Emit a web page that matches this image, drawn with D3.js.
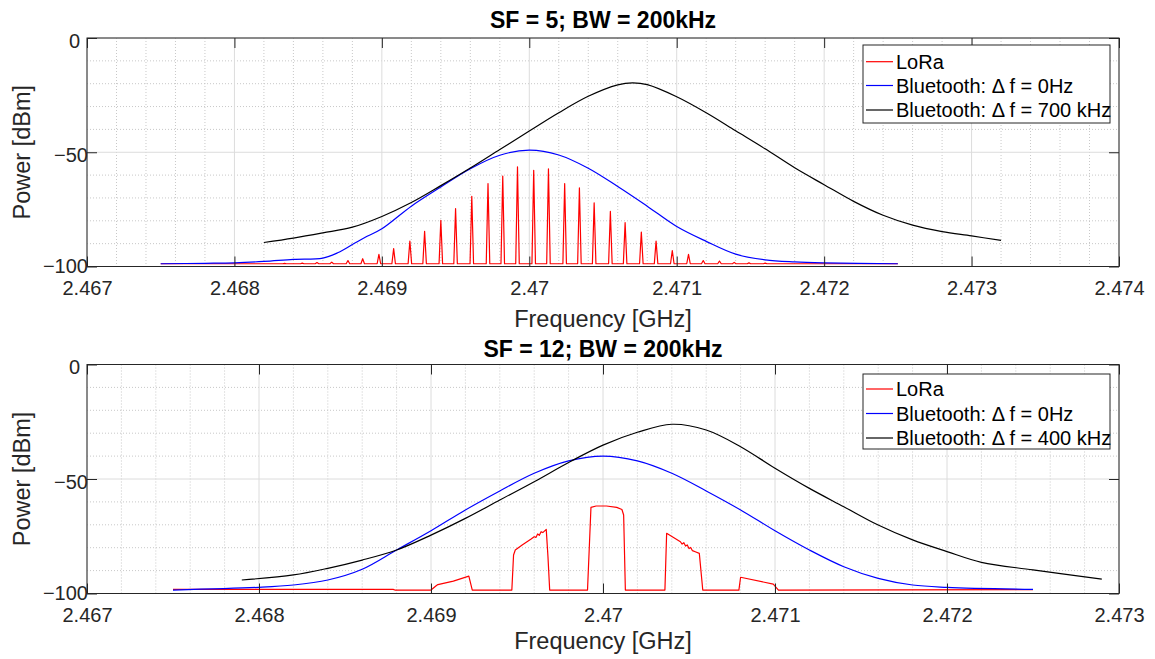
<!DOCTYPE html>
<html><head><meta charset="utf-8">
<script src="https://cdn.jsdelivr.net/npm/d3@7"></script>
<style>
body{margin:0;background:#fff}
svg{display:block}
text{font-family:"Liberation Sans",Arial,Helvetica,sans-serif;fill:#262626}
</style>
</head><body>
<svg id="c" width="1155" height="659"></svg>
<script>
// ---------------- DATA ----------------
const topTitle = "SF = 5; BW = 200kHz";
const bottomTitle = "SF = 12; BW = 200kHz";
const xLabel = "Frequency [GHz]";
const yLabel = "Power [dBm]";

const topXTicks = [2.467, 2.468, 2.469, 2.470, 2.471, 2.472, 2.473, 2.474];
const topXTickLabels = ["2.467", "2.468", "2.469", "2.47", "2.471", "2.472", "2.473", "2.474"];
const bottomXTicks = [2.467, 2.468, 2.469, 2.470, 2.471, 2.472, 2.473];
const bottomXTickLabels = ["2.467", "2.468", "2.469", "2.47", "2.471", "2.472", "2.473"];
const yTicks = [-100, -50, 0];
const yTickLabels = ["\u2212100", "\u221250", "0"];

const topLegend = ["LoRa", "Bluetooth: \u0394 f = 0Hz", "Bluetooth: \u0394 f = 700 kHz"];
const bottomLegend = ["LoRa", "Bluetooth: \u0394 f = 0Hz", "Bluetooth: \u0394 f = 400 kHz"];

// Top panel: LoRa SF5 spectral lines (frequency GHz, peak dBm) on a floor
const topLoraRange = [2.4675, 2.4725];
const topLoraFloor = -98.8;
const topLoraSpikeFreq = [2.46834, 2.46846, 2.46856, 2.46866, 2.46877, 2.46887, 2.46898, 2.46908,
  2.46919, 2.46929, 2.46940, 2.46950, 2.46961, 2.46972, 2.46982, 2.46992, 2.47003, 2.47013,
  2.47024, 2.47034, 2.47044, 2.47055, 2.47065, 2.47076, 2.47086, 2.47097, 2.47108, 2.47118,
  2.47129, 2.47139, 2.47149, 2.47160];
const topLoraSpikePeak = [-98.6, -98.5, -98.3, -98.1, -97.4, -96.6, -94.7, -92.2,
  -88.9, -84.6, -79.8, -74.7, -69.3, -63.7, -60.4, -56.4, -57.9, -57.3,
  -63.7, -65.6, -72.1, -75.9, -80.8, -84.9, -88.9, -93.0, -94.7, -97.4,
  -97.6, -98.2, -98.4, -98.5];

const topBlueF = [2.4675, 2.4678, 2.4680, 2.4682, 2.4684, 2.4686, 2.4687, 2.4688, 2.4689, 2.4690,
  2.4692, 2.4694, 2.4696, 2.4698, 2.4700, 2.4702, 2.4704, 2.4706, 2.4708, 2.4710,
  2.4712, 2.4714, 2.4716, 2.4718, 2.4720, 2.4725];
const topBlueP = [-98.8, -98.6, -98.4, -97.8, -96.9, -96.3, -94.0, -90.4, -86.8, -83.5,
  -73.6, -65.2, -57.2, -51.3, -49.1, -51.2, -57.0, -65.0, -73.6, -82.5,
  -89.0, -94.6, -97.1, -98.0, -98.4, -98.8];

const topBlackF = [2.4682, 2.4684, 2.4686, 2.4688, 2.4690, 2.4692, 2.4694, 2.4696, 2.4698, 2.4700,
  2.4702, 2.4704, 2.4706, 2.4707, 2.4708, 2.4710, 2.4712, 2.4714, 2.4716, 2.4718,
  2.4720, 2.4722, 2.4724, 2.4726, 2.4728, 2.4730, 2.4732];
const topBlackP = [-89.5, -87.6, -85.3, -82.8, -78.1, -72.0, -64.6, -56.9, -48.8, -40.7,
  -32.7, -25.5, -20.5, -19.6, -20.4, -25.7, -32.7, -40.6, -48.5, -56.8,
  -64.2, -71.5, -77.6, -81.9, -84.7, -86.6, -88.6];

// Bottom panel
const bottomLoraF = [2.4675, 2.46878, 2.46879, 2.46900, 2.46903, 2.46904, 2.46913, 2.46922, 2.46924,
  2.46947, 2.46948, 2.46949, 2.46953, 2.46958, 2.46960, 2.46961, 2.46962, 2.46963, 2.46964, 2.46965, 2.46967, 2.46968, 2.46969,
  2.46991, 2.46993, 2.46996, 2.47002, 2.47008, 2.47011, 2.47012, 2.47013,
  2.47036, 2.47037, 2.47041, 2.47045, 2.47046, 2.47047, 2.47048, 2.47049, 2.47050, 2.47051, 2.47052, 2.47054, 2.47056, 2.47058,
  2.47079, 2.47080, 2.47099, 2.47102, 2.4725];
const bottomLoraP = [-98.2, -98.2, -98.5, -98.5, -96.6, -96.1, -94.6, -92.4, -98.5,
  -98.5, -83.2, -81.0, -78.8, -76.3, -75.2, -75.5, -74.0, -74.6, -73.0, -73.4, -72.0, -83.9, -98.5,
  -98.5, -62.4, -61.8, -61.8, -62.4, -63.3, -65.7, -98.5,
  -98.5, -73.7, -75.5, -77.4, -78.4, -77.8, -79.3, -78.8, -80.4, -79.9, -81.3, -81.9, -82.5, -98.5,
  -98.5, -92.9, -95.9, -98.5, -98.3];

const bottomBlueF = [2.4675, 2.4680, 2.4682, 2.4684, 2.4686, 2.4688, 2.4690, 2.4692, 2.4694, 2.4696, 2.4698, 2.4700,
  2.4702, 2.4704, 2.4706, 2.4708, 2.4710, 2.4712, 2.4714, 2.4716, 2.4718, 2.4720, 2.4725];
const bottomBlueP = [-98.5, -97.3, -96.3, -94.1, -89.4, -81.0, -72.6, -63.5, -55.2, -47.5, -42.1, -40.0,
  -42.1, -47.5, -55.2, -63.5, -72.6, -81.0, -88.3, -93.4, -96.3, -97.3, -98.2];

const bottomBlackF = [2.4679, 2.4682, 2.4684, 2.4686, 2.4688, 2.4690, 2.4692, 2.4694, 2.4696, 2.4698, 2.4700, 2.4702,
  2.4704, 2.4706, 2.4708, 2.4710, 2.4712, 2.4714, 2.4716, 2.4718, 2.4720, 2.4722, 2.4725, 2.4729];
const bottomBlackP = [-94.1, -91.9, -89.0, -85.4, -81.0, -74.5, -67.2, -59.2, -51.2, -42.8, -35.2, -29.6,
  -26.1, -28.6, -35.9, -45.3, -54.1, -62.1, -70.1, -76.6, -81.7, -86.4, -89.7, -93.7];

// ---------------- DRAWING ----------------
const svg = d3.select("#c");
const AX = "#262626";
const colors = ["#ff0000", "#0000ff", "#000000"];
const zip = (a, b) => a.map((v, i) => [v, b[i]]);

function spikeSeries(range, floor, freqs, peaks) {
  const hw = 0.000012;
  const pts = [[range[0], floor]];
  freqs.forEach((f, i) => {
    pts.push([f - hw, floor], [f, peaks[i]], [f + hw, floor]);
  });
  pts.push([range[1], floor]);
  return pts;
}

function panel(cfg) {
  const x = d3.scaleLinear().domain(cfg.xDomain).range([87, 1119]);
  const y = d3.scaleLinear().domain([-100, 0]).range([cfg.bottom, cfg.top]);
  const g = svg.append("g");
  const minorStep = 0.0002;
  const xMinor = d3.range(0, Math.round((cfg.xDomain[1] - cfg.xDomain[0]) / minorStep) + 1)
    .map(i => cfg.xDomain[0] + i * minorStep)
    .filter((v, i) => i % 5 !== 0);
  const yMinor = d3.range(-90, 0, 10).filter(v => v !== -50);

  // minor grid
  g.append("g").selectAll("line").data(xMinor).join("line")
    .attr("x1", d => x(d)).attr("x2", d => x(d)).attr("y1", cfg.top).attr("y2", cfg.bottom)
    .attr("stroke", "#c8c8c8").attr("stroke-width", 1).attr("stroke-dasharray", "1,2");
  g.append("g").selectAll("line").data(yMinor).join("line")
    .attr("y1", d => y(d)).attr("y2", d => y(d)).attr("x1", 87).attr("x2", 1119)
    .attr("stroke", "#c8c8c8").attr("stroke-width", 1).attr("stroke-dasharray", "1,2");
  // major grid
  g.append("g").selectAll("line").data(cfg.xTicks).join("line")
    .attr("x1", d => x(d)).attr("x2", d => x(d)).attr("y1", cfg.top).attr("y2", cfg.bottom)
    .attr("stroke", "#dcdcdc").attr("stroke-width", 1);
  g.append("g").selectAll("line").data(yTicks).join("line")
    .attr("y1", d => y(d)).attr("y2", d => y(d)).attr("x1", 87).attr("x2", 1119)
    .attr("stroke", "#dcdcdc").attr("stroke-width", 1);

  // series
  const line = d3.line().x(d => x(d[0])).y(d => y(d[1]));
  const smooth = d3.line().x(d => x(d[0])).y(d => y(d[1])).curve(d3.curveCatmullRom.alpha(0.5));
  g.append("path").datum(cfg.lora).attr("d", line)
    .attr("fill", "none").attr("stroke", colors[0]).attr("stroke-width", 1.2).attr("stroke-linejoin", "round");
  g.append("path").datum(cfg.blue).attr("d", smooth)
    .attr("fill", "none").attr("stroke", colors[1]).attr("stroke-width", 1.2);
  g.append("path").datum(cfg.black).attr("d", smooth)
    .attr("fill", "none").attr("stroke", colors[2]).attr("stroke-width", 1.2);

  // axes (box with inward ticks)
  const ax = g.append("g").attr("transform", `translate(0,${cfg.bottom})`)
    .call(d3.axisBottom(x).tickValues(cfg.xTicks).tickFormat((d, i) => cfg.xTickLabels[i])
      .tickSizeInner(-10).tickSizeOuter(0).tickPadding(0));
  ax.selectAll("text").attr("y", 28).attr("dy", 0).style("font-size", "20px").style("fill", AX);
  g.append("g").attr("transform", `translate(0,${cfg.top})`)
    .call(d3.axisTop(x).tickValues(cfg.xTicks).tickFormat("").tickSizeInner(-10).tickSizeOuter(0));
  const ay = g.append("g").attr("transform", "translate(87,0)")
    .call(d3.axisLeft(y).tickValues(yTicks).tickFormat((d, i) => yTickLabels[i])
      .tickSizeInner(-10).tickSizeOuter(0).tickPadding(0));
  ay.selectAll("text").attr("x", d => d === 0 ? -7 : 1).attr("dy", d => d === -100 ? "0.3em" : "0.45em")
    .style("font-size", "20px").style("fill", AX);
  g.append("g").attr("transform", "translate(1119,0)")
    .call(d3.axisRight(y).tickValues(yTicks).tickFormat("").tickSizeInner(-10).tickSizeOuter(0));
  g.selectAll(".domain").remove();
  g.selectAll(".tick line").attr("stroke", AX).attr("stroke-width", 1);
  g.append("rect").attr("x", 87).attr("y", cfg.top).attr("width", 1119 - 87).attr("height", cfg.bottom - cfg.top)
    .attr("fill", "none").attr("stroke", AX).attr("stroke-width", 1);

  // title & labels
  g.append("text").attr("x", 603).attr("y", cfg.titleY).attr("text-anchor", "middle")
    .style("font-size", "23px").style("font-weight", "bold").style("fill", "#000").text(cfg.title);
  g.append("text").attr("x", 603).attr("y", cfg.xLabelY).attr("text-anchor", "middle")
    .style("font-size", "23.5px").text(xLabel);
  g.append("text").attr("transform", `translate(30,${(cfg.top + cfg.bottom) / 2}) rotate(-90)`)
    .attr("text-anchor", "middle").style("font-size", "23.5px").text(yLabel);

  // legend
  const L = cfg.legendBox;
  const lg = g.append("g");
  lg.append("rect").attr("x", L[0]).attr("y", L[1]).attr("width", L[2]).attr("height", L[3])
    .attr("fill", "#fff").attr("stroke", AX).attr("stroke-width", 1);
  cfg.legend.forEach((t, i) => {
    const ry = cfg.legendRows[i];
    lg.append("line").attr("x1", L[0] + 3).attr("x2", L[0] + 30).attr("y1", ry).attr("y2", ry)
      .attr("stroke", colors[i]).attr("stroke-width", 1.2);
    lg.append("text").attr("x", L[0] + 33).attr("y", ry + 7).style("font-size", "20px").style("fill", "#000").text(t);
  });
}

panel({
  xDomain: [2.467, 2.474], xTicks: topXTicks, xTickLabels: topXTickLabels,
  top: 38, bottom: 266.5, titleY: 28, xLabelY: 326.5, title: topTitle,
  lora: spikeSeries(topLoraRange, topLoraFloor, topLoraSpikeFreq, topLoraSpikePeak),
  blue: zip(topBlueF, topBlueP), black: zip(topBlackF, topBlackP),
  legend: topLegend, legendBox: [863, 45, 247, 78], legendRows: [61.7, 85.5, 110]
});
panel({
  xDomain: [2.467, 2.473], xTicks: bottomXTicks, xTickLabels: bottomXTickLabels,
  top: 364.5, bottom: 593.5, titleY: 357, xLabelY: 648.5, title: bottomTitle,
  lora: zip(bottomLoraF, bottomLoraP),
  blue: zip(bottomBlueF, bottomBlueP), black: zip(bottomBlackF, bottomBlackP),
  legend: bottomLegend, legendBox: [863, 374, 247, 75], legendRows: [389, 413.5, 438]
});
</script>
</body></html>
